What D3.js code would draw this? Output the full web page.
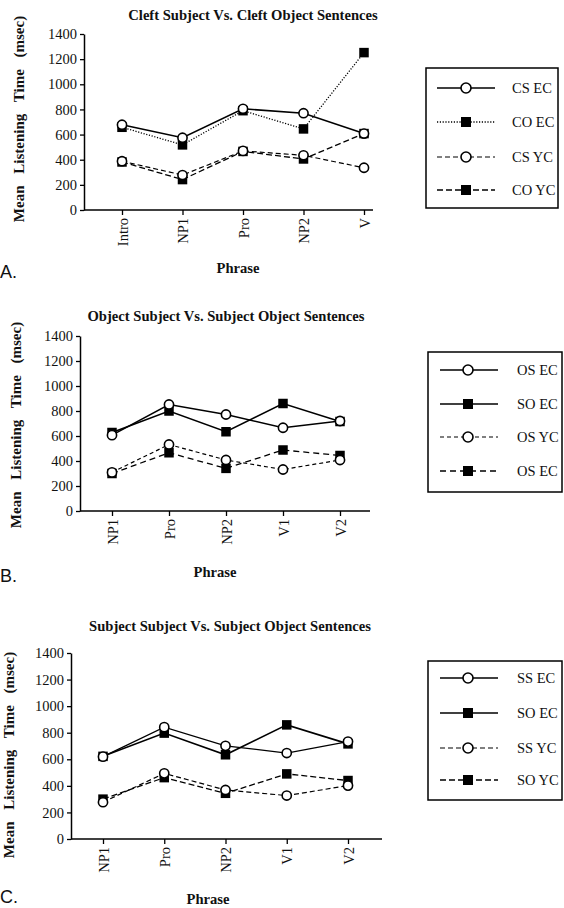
<!DOCTYPE html>
<html><head><meta charset="utf-8">
<script src="https://cdn.jsdelivr.net/npm/d3@7"></script>
<style>
body{margin:0;background:#fff;}
svg{display:block;}
text{font-family:"Liberation Serif","Times New Roman",serif;fill:#111;}
</style></head>
<body>
<script>
// ---------- DATA ----------
const yTicks = [0,200,400,600,800,1000,1200,1400];

const catsA = ["Intro","NP1","Pro","NP2","V"];
const csEC = [678,575,805,770,608];
const coEC = [658,518,790,645,1252];
const csYC = [388,278,470,435,336];
const coYC = [382,242,466,406,608];
const legendA = ["CS EC","CO EC","CS YC","CO YC"];

const catsB = ["NP1","Pro","NP2","V1","V2"];
const osEC_B = [607,852,772,666,720];
const soEC_B = [628,800,634,860,716];
const osYC_B = [309,532,408,332,408];
const osEC2_B = [300,466,341,488,444];
const legendB = ["OS EC","SO EC","OS YC","OS EC"];

const catsC = ["NP1","Pro","NP2","V1","V2"];
const ssEC = [620,842,701,647,733];
const soEC_C = [622,797,634,859,716];
const ssYC = [277,494,369,327,402];
const soYC = [300,462,344,490,440];
const legendC = ["SS EC","SO EC","SS YC","SO YC"];

const titles = ["Cleft Subject Vs. Cleft Object Sentences",
                "Object Subject Vs. Subject Object Sentences",
                "Subject Subject Vs. Subject Object Sentences"];
const panelLetters = ["A.","B.","C."];

// ---------- STYLES / LAYOUT ----------
const W = 564, H = 908;
const svg = d3.select("body").append("svg").attr("width",W).attr("height",H);

const styleA = [
  {dash:null, marker:"circle", w:1.6},
  {dash:"1.2,1.6", marker:"square", w:1.3},
  {dash:"5,3", marker:"circle", w:1.2},
  {dash:"6,3", marker:"square", w:1.3}
];
const styleB = [
  {dash:null, marker:"circle", w:1.5},
  {dash:null, marker:"square", w:1.6},
  {dash:"4,3", marker:"circle", w:1.2},
  {dash:"6,4", marker:"square", w:1.3}
];
const styleC = [
  {dash:null, marker:"circle", w:1.3},
  {dash:null, marker:"square", w:1.6},
  {dash:"5,3", marker:"circle", w:1.2},
  {dash:"6,3", marker:"square", w:1.3}
];

const panels = [
  {cats:catsA, series:[csEC,coEC,csYC,coYC], names:legendA, styles:styleA,
   ax:{x0:84,x1:373,yb:210,yt:34,c0:122,c1:364},
   title:{x:253,y:20}, phrase:{x:238,y:273}, ylab:{x:24,y:119}, letter:{x:0,y:278},
   leg:{x0:426,x1:558,y0:68,y1:208,rows:[88,122,157,190],l0:437,l1:495,m:466,t:512}},
  {cats:catsB, series:[osEC_B,soEC_B,osYC_B,osEC2_B], names:legendB, styles:styleB,
   ax:{x0:80,x1:370,yb:511,yt:336,c0:112,c1:340},
   title:{x:226,y:321}, phrase:{x:215,y:577}, ylab:{x:21,y:425}, letter:{x:0,y:582},
   leg:{x0:428,x1:562,y0:352,y1:492,rows:[370,404,437,471],l0:440,l1:498,m:468,t:517}},
  {cats:catsC, series:[ssEC,soEC_C,ssYC,soYC], names:legendC, styles:styleC,
   ax:{x0:71,x1:382,yb:839,yt:653,c0:103,c1:348},
   title:{x:230,y:631}, phrase:{x:208,y:904}, ylab:{x:14,y:755}, letter:{x:0,y:903},
   leg:{x0:428,x1:562,y0:661,y1:800,rows:[678,713,748,780],l0:440,l1:498,m:468,t:517}}
];

function drawMarker(g, type, x, y, big){
  if(type==="circle"){
    g.append("circle").attr("cx",x).attr("cy",y).attr("r",big?5:4.6)
      .attr("fill","#fff").attr("stroke","#000").attr("stroke-width",1.6);
  } else {
    const s=big?10:9.5;
    g.append("rect").attr("x",x-s/2).attr("y",y-s/2).attr("width",s).attr("height",s)
      .attr("fill","#000");
  }
}

panels.forEach((p,pi)=>{
  const g = svg.append("g");
  const x = d3.scalePoint().domain(p.cats).range([p.ax.c0,p.ax.c1]);
  const y = d3.scaleLinear().domain([0,1400]).range([p.ax.yb,p.ax.yt]);

  // y axis
  const yAxis = d3.axisLeft(y).tickValues(yTicks).tickFormat(d3.format("d"))
    .tickSize(4).tickSizeOuter(0).tickPadding(3);
  const yg = g.append("g").attr("transform",`translate(${p.ax.x0},0)`).call(yAxis);
  yg.attr("font-family",null).attr("font-size",null);
  yg.select(".domain").attr("stroke","#000").attr("stroke-width",1.5);
  yg.selectAll(".tick line").attr("stroke","#000").attr("stroke-width",1.3);
  yg.selectAll(".tick text").style("font-size","14.5px").attr("fill","#111");

  // x axis
  const xg = g.append("g").attr("transform",`translate(0,${p.ax.yb})`);
  xg.append("line").attr("x1",p.ax.x0).attr("x2",p.ax.x1).attr("y1",0).attr("y2",0)
    .attr("stroke","#000").attr("stroke-width",1.5);
  const xAxis = d3.axisBottom(x).tickSize(5).tickSizeOuter(0).tickPadding(3);
  const xa = xg.append("g").call(xAxis);
  xa.attr("font-family",null).attr("font-size",null);
  xa.select(".domain").remove();
  xa.selectAll(".tick line").attr("stroke","#000").attr("stroke-width",1.3);
  xa.selectAll(".tick text")
    .style("font-size","14.5px").attr("fill","#111")
    .attr("transform","rotate(-90)")
    .attr("text-anchor","end").attr("x",-8).attr("y",0).attr("dy","0.35em");

  // lines
  const line = d3.line().x((d,i)=>x(p.cats[i])).y(d=>y(d));
  p.series.forEach((s,si)=>{
    const st = p.styles[si];
    g.append("path").datum(s).attr("d",line).attr("fill","none")
      .attr("stroke","#000").attr("stroke-width",st.w)
      .attr("stroke-dasharray",st.dash);
  });
  // markers: squares first then circles on top
  [1,3,0,2].forEach(si=>{
    const st = p.styles[si];
    p.series[si].forEach((v,i)=>drawMarker(g, st.marker, x(p.cats[i]), y(v)));
  });

  // title
  g.append("text").attr("x",p.title.x).attr("y",p.title.y).attr("text-anchor","middle")
    .attr("font-weight","bold").style("font-size","14.6px").text(titles[pi]);
  // x label
  g.append("text").attr("x",p.phrase.x).attr("y",p.phrase.y).attr("text-anchor","middle")
    .attr("font-weight","bold").style("font-size","14.6px").text("Phrase");
  // y label
  g.append("text").attr("transform",`translate(${p.ylab.x},${p.ylab.y}) rotate(-90)`)
    .attr("text-anchor","middle").attr("font-weight","bold").style("font-size","15px")
    .attr("word-spacing","8px").text("Mean Listening Time (msec)");
  // panel letter
  g.append("text").attr("x",p.letter.x).attr("y",p.letter.y)
    .style("font-family","Liberation Sans, Arial, sans-serif").style("font-size","18px")
    .text(panelLetters[pi]);

  // legend
  const L = p.leg;
  g.append("rect").attr("x",L.x0).attr("y",L.y0).attr("width",L.x1-L.x0).attr("height",L.y1-L.y0)
    .attr("fill","none").attr("stroke","#000").attr("stroke-width",1.5);
  p.names.forEach((n,i)=>{
    const st = p.styles[i], ry = L.rows[i];
    g.append("line").attr("x1",L.l0).attr("x2",L.l1).attr("y1",ry).attr("y2",ry)
      .attr("stroke","#000").attr("stroke-width",st.w).attr("stroke-dasharray",st.dash);
    drawMarker(g, st.marker, L.m, ry, true);
    g.append("text").attr("x",L.t).attr("y",ry).attr("dy","0.35em").style("font-size","14.5px").text(n);
  });
});
</script>
</body></html>
